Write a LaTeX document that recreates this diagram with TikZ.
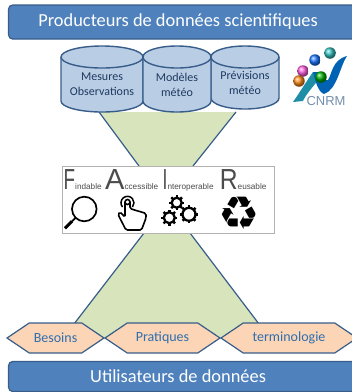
\documentclass[tikz,border=0pt]{standalone}
\usepackage{fontspec}
\setmainfont{Carlito}
\newfontfamily\fairfont{Liberation Sans}
\newfontfamily\iconfont{DejaVu Sans}
\usepackage{graphicx}
\usepackage{tikz}
\usetikzlibrary{positioning, shapes.symbols}
\definecolor{barblue}{HTML}{4F81BD}
\definecolor{darkblue}{HTML}{385D8A}
\definecolor{cylblue}{HTML}{B9CDE5}
\definecolor{funnelgreen}{HTML}{D7E4BC}
\definecolor{hexorange}{HTML}{FBD5B5}
\definecolor{hextext}{HTML}{2F6EAF}
\definecolor{cyltext}{HTML}{1F3A5F}
\tikzset {
    x=1pt,
    y=-1pt,
    bar/.style={draw=darkblue, fill=barblue, line width=1.2pt, rounded corners=4pt, text=white, font=\fontsize{18.4}{19}\selectfont, minimum width=352pt, inner sep=0pt},
    db/.style={draw=darkblue, fill=cylblue, line width=1.4pt},
    dbtext/.style={text=cyltext, align=center, inner sep=0pt, font=\fontsize{12}{15}\selectfont},
    funnel/.style={draw=none, fill=funnelgreen},
    funnelside/.style={draw=darkblue, line width=1.2pt},
    need/.style={signal, signal to=east and west, signal pointer angle=68, draw=darkblue, fill=hexorange, line width=1.2pt, text=hextext, font=\fontsize{14}{14}\selectfont, minimum height=30pt, inner sep=0pt},
    fair/.style={anchor=base west, inner sep=0pt, text=black!70, font=\fairfont\fontsize{8.2}{9}\selectfont},
    ball/.style={circle, minimum size=11.5pt, inner sep=0pt}
}
\newcommand{\bigfair}[2]{\scalebox{#1}[1]{\fontsize{29}{29}\selectfont #2}}
% centre x, half width, y of the top ellipse, y of the bottom ellipse
\newcommand{\dbcyl}[4]{
    \draw[db] (#1-#2,#3) -- (#1-#2,#4) arc[start angle=180, end angle=0, x radius=#2, y radius=11] -- (#1+#2,#3);
    \draw[db] (#1,#3) ellipse[x radius=#2, y radius=11];
}
\begin{document}
\begin{tikzpicture}
    \clip (0,0) rectangle (352,392);

    % funnel
    \coordinate (tl) at (99,112);
    \coordinate (tr) at (236,112);
    \coordinate (ul) at (139,166);
    \coordinate (ur) at (193,166);
    \coordinate (ll) at (144,233);
    \coordinate (lr) at (190,233);
    \coordinate (bl) at (74,324);
    \coordinate (br) at (259,324);
    \fill[funnel] (tl) -- (tr) -- (ur) -- (ul) -- cycle;
    \fill[funnel] (ll) -- (lr) -- (br) -- (259,339) -- (74,339) -- (bl) -- cycle;
    \draw[funnelside] (tl) -- (ul) (tr) -- (ur) (ll) -- (bl) (lr) -- (br);

    \node[bar, minimum height=34pt, anchor=west] (prod) at (8,22) {\hspace{-13pt}Producteurs de données scientifiques};
    \node[bar, minimum height=30pt, anchor=west] (util) at (8,376.5) {\hspace{-13pt}Utilisateurs de données};

    % sources
    \dbcyl{102}{41}{57}{101}
    \dbcyl{245}{34}{57}{98}
    \dbcyl{177}{34}{57}{101}
    \node[dbtext] (mes) at (102,84) {Mesures\\Observations};
    \node[dbtext] (mod) at (177,85) {Modèles\\météo};
    \node[dbtext] (prev) at (245,83) {Prévisions\\météo};

    % logo
    \fill[darkblue!60!cyan!90!black] (293,102) .. controls (300,92) and (306,82) .. (313,72) -- (322,76) .. controls (313,86) and (305,96) .. (303,101) -- cycle;
    \fill[blue!45!cyan!70!black] (347,56) .. controls (340,66) and (337,90) .. (324,94) .. controls (318,92) and (315,80) .. (313,72) -- (318,72) .. controls (322,76) and (325,82) .. (328,80) .. controls (332,74) and (332,60) .. (347,56) -- cycle;
    \node[ball, ball color=teal!60!cyan!80] (b1) at (330,53) {};
    \node[ball, ball color=blue!60!cyan!90] (b2) at (315,60) {};
    \node[ball, ball color=magenta!50!pink] (b3) at (303,71) {};
    \node[ball, ball color=orange!90] (b4) at (299,81) {};
    \node[ball, ball color=green!70!black] (b5) at (321,77) {};
    \node[text=darkblue!70, inner sep=0pt, font=\fairfont\fontsize{13}{13}\selectfont] (cnrm) at (326,101) {CNRM};

    % FAIR
    \node[draw=black!30, fill=white, line width=0.8pt, minimum width=212pt, minimum height=67pt, inner sep=0pt] (box) at (168,199.5) {};
    \node[fair] (f) at (63.5,189.5) {\bigfair{0.65}{F}indable};
    \node[fair] (a) at (105,189.5) {\bigfair{1}{A}ccessible};
    \node[fair] (i) at (162.5,189.5) {\bigfair{0.6}{I}nteroperable};
    \node[fair] (r) at (219.7,189.5) {\bigfair{0.85}{R}eusable};

    % loupe
    \draw[line width=1.7pt] (84.3,209) circle (12.3);
    \draw[line width=1.7pt] (75.5,217.8) -- (72,221.3);
    \draw[line width=3pt] (72,221.3) -- (65,228.3);

    % hand
    \draw[line width=1.6pt, fill=white, rounded corners=1.5pt] (125,202) -- (125,217) -- (120,212) -- (118,214.5) -- (126,230) -- (141.5,230) -- (146,218) -- (146,213.5) -- (141.5,212) -- (136,210.5) -- (130,208.5) -- (130,202);
    \draw[line width=1.6pt] (127.5,202) circle (2.5);
    \draw[line width=1.5pt] (122.5,207) arc[start angle=140, end angle=400, radius=6.5];

    % gears
    \foreach \gx/\gy/\gr in {176.7/202.7/5, 169.3/217.7/5.5, 189/214.3/6.5} {
        \draw[line width=2.3pt] (\gx,\gy) circle (\gr);
        \foreach \ga in {0,45,...,315}
            \draw[line width=2.4pt] (\gx,\gy) ++(\ga:\gr) -- ++(\ga:2.6);
    }

    % recycle
    \node[inner sep=0pt, font=\iconfont\fontsize{46}{46}\selectfont] (rec) at (239.5,213) {^^^^267b};

    % needs
    \node[need, minimum width=97pt] (bes) at (55.5,338) {Besoins};
    \node[need, minimum width=115pt] (pra) at (162.5,338) {Pratiques};
    \node[need, minimum width=136pt] (ter) at (289,338) {terminologie};
\end{tikzpicture}
\end{document}
